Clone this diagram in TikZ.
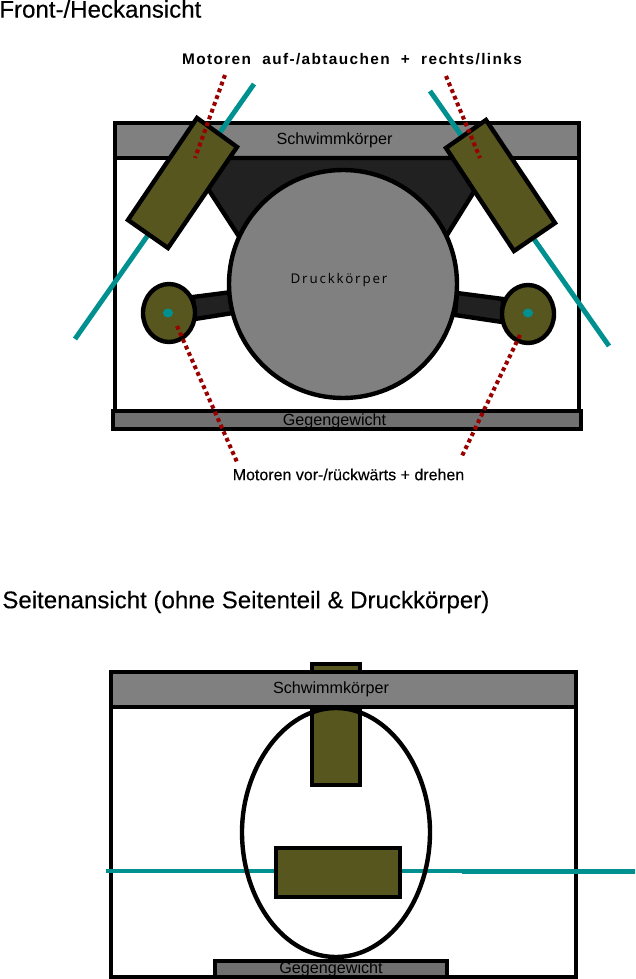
\documentclass[tikz,border=0pt]{standalone}
\usepackage{fontspec}
\setmainfont{Liberation Sans}
\newfontfamily\labelfont[LetterSpace=9]{Liberation Sans}
\newfontfamily\headfont[FakeBold=0.25]{Liberation Sans}
\newfontfamily\hullfont[LetterSpace=14]{Open Sans}
\definecolor{hull}{HTML}{808080}
\definecolor{ballast}{HTML}{707070}
\definecolor{strut}{HTML}{212121}
\definecolor{olive}{HTML}{58561F}
\definecolor{teal}{HTML}{009090}
\definecolor{wire}{HTML}{990000}
\tikzset{
  part/.style={draw=black, line width=2.5pt, miter limit=10},
  shaft/.style={draw=teal, line width=2.8pt},
  wiring/.style={draw=wire, line width=2.3pt, dash pattern=on 2.2pt off 1.9pt},
  heading/.style={inner sep=0pt, font=\headfont\fontsize{13.7pt}{15pt}\selectfont},
  inlabel/.style={inner sep=0pt, font=\fontsize{9.2pt}{11pt}\selectfont, text=black}
}
\begin{document}
\begin{tikzpicture}[x=0.02cm, y=-0.02cm]
\useasboundingbox (0,0) rectangle (635,979);
% front view
\node [heading, right] (fronttitle) at (-1,9) {Front-/Heckansicht};
\draw [part] (115,158) rectangle (579,412);
\draw [part, fill=hull] (115,123) rectangle (579,158);
\draw [part, fill=strut] (188,158) -- (495,158) -- (447,235) -- (238,235) -- cycle;
\draw [part, fill=strut] (193,297) -- (232,292) -- (233,313) -- (195,319) -- cycle;
\draw [part, fill=strut] (457,293) -- (503,299) -- (502,322) -- (455,315) -- cycle;
\draw [part, fill=hull] (343,284) circle (114);
\draw [part, fill=ballast] (113,411) rectangle (581,429);
\draw [shaft] (254,84) -- (75,339);
\draw [shaft] (430,91) -- (609,346);
\draw [part, fill=olive] (197,118) -- (237,147) -- (168,248) -- (128,220) -- cycle;
\draw [part, fill=olive] (486,120) -- (555,223) -- (514,251) -- (446,148) -- cycle;
\draw [part, fill=olive] (169,313) ellipse (26 and 29);
\draw [part, fill=olive] (528,314) ellipse (26 and 29);
\fill [teal] (168,313) ellipse (5 and 4.5);
\fill [teal] (528,313) ellipse (5 and 4.5);
\draw [wiring] (225,75) -- (195,158);
\draw [wiring] (446,76) -- (480,158);
\draw [wiring] (177,326) -- (237,462);
\draw [wiring] (520,335) -- (461,458);
\node [inlabel] (schwimmfront) at (334.5,140.5) {Schwimmkörper};
\node [inlabel] (gewichtfront) at (334.5,421.5) {Gegengewicht};
\node [inlabel, font=\hullfont\fontsize{7.6pt}{9pt}\selectfont] (druck) at (339,280) {Druckkörper};
\node [inner sep=0pt, font=\labelfont\bfseries\fontsize{8.75pt}{10pt}\selectfont] (upmotors) at (352,59) {Motoren\ \ auf-/abtauchen\ \ +\ \ rechts/links};
\node [inner sep=0pt, font=\headfont\fontsize{9.1pt}{11pt}\selectfont] (drivemotors) at (348.5,474.5) {Motoren vor-/rückwärts + drehen};
% side view
\node [heading, right] (sidetitle) at (2,602) {Seitenansicht (ohne Seitenteil \& Druckkörper)};
\draw [part] (111,707) rectangle (576,977);
\draw [part, fill=olive] (312,664) rectangle (360,785);
\draw [part, fill=hull] (111,672) rectangle (576,707);
\draw [shaft] (106,871) -- (462,871);
\draw [shaft] (462,871.5) -- (635,871.5);
\draw [part, fill=olive] (276,848) rectangle (400,897);
\draw [part] (336,708) .. controls (388,708) and (430,768) .. (430,832)
  .. controls (430,900) and (388,957) .. (336,957)
  .. controls (284,957) and (242,900) .. (242,832)
  .. controls (242,768) and (284,708) .. (336,708) -- cycle;
\draw [part, fill=ballast] (215,961) rectangle (447,977);
\node [inlabel] (schwimmside) at (331,689.5) {Schwimmkörper};
\node [inlabel] (gewichtside) at (331,969.5) {Gegengewicht};
\end{tikzpicture}
\end{document}
